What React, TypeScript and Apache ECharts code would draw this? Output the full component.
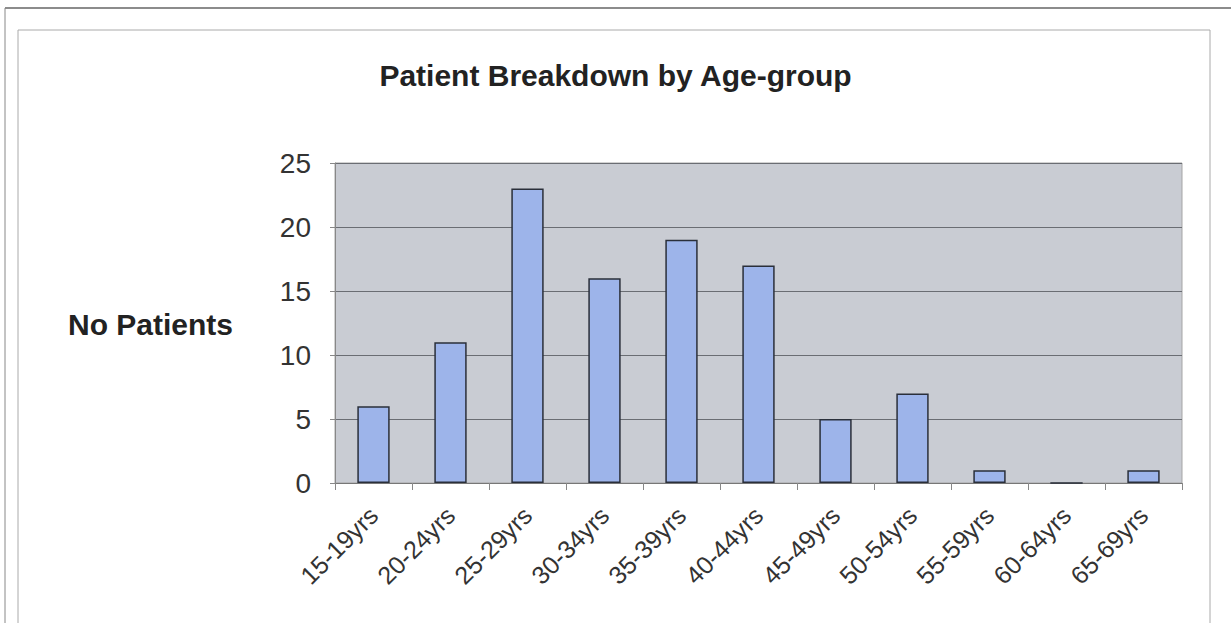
import React, { useEffect, useRef } from "react";
import * as echarts from "echarts";

const categories = ["15-19yrs", "20-24yrs", "25-29yrs", "30-34yrs", "35-39yrs", "40-44yrs", "45-49yrs", "50-54yrs", "55-59yrs", "60-64yrs", "65-69yrs"];
const patients = [6, 11, 23, 16, 19, 17, 5, 7, 1, 0, 1];
const yTicks = { min: 0, max: 25, interval: 5 };
const titleText = "Patient Breakdown by Age-group";
const yName = "No Patients";

export default function App() {
  const ref = useRef<HTMLDivElement>(null);
  useEffect(() => {
    document.body.style.margin = "0";
    const chart = echarts.init(ref.current!, null, { renderer: "svg" });
    chart.setOption({
      animation: false,
      backgroundColor: "#ffffff",
      title: {
        text: titleText,
        left: "center",
        top: 55,
        textStyle: { fontFamily: "Liberation Sans, Arial", fontWeight: "bold", fontSize: 30, color: "#222" },
      },
      graphic: [
        { type: "line", shape: { x1: 5, y1: 8, x2: 1231, y2: 8 }, style: { stroke: "#666", lineWidth: 1.5 } },
        { type: "line", shape: { x1: 5, y1: 8, x2: 5, y2: 623 }, style: { stroke: "#888", lineWidth: 1 } },
        { type: "rect", shape: { x: 18, y: 30, width: 1192, height: 600 }, style: { fill: "none", stroke: "#aaa", lineWidth: 1 } },
        {
          type: "text",
          left: 68,
          top: 309,
          style: { text: yName, fontFamily: "Liberation Sans, Arial", fontWeight: "bold", fontSize: 30, fill: "#222" },
        },
      ],
      grid: {
        left: 335,
        right: 49,
        top: 163,
        bottom: 140,
        show: true,
        backgroundColor: "#c9ccd3",
        borderColor: "#a5a5a5",
        borderWidth: 1,
      },
      xAxis: {
        type: "category",
        data: categories,
        axisLine: { lineStyle: { color: "#777", width: 1 } },
        axisTick: { show: true, length: 7, lineStyle: { color: "#888" } },
        axisLabel: {
          rotate: 45,
          interval: 0,
          fontFamily: "Liberation Sans, Arial",
          fontSize: 25,
          color: "#333",
          margin: 28,
        },
      },
      yAxis: {
        type: "value",
        min: yTicks.min,
        max: yTicks.max,
        interval: yTicks.interval,
        axisLine: { show: true, lineStyle: { color: "#888" } },
        axisTick: { show: true, length: 5, lineStyle: { color: "#888" } },
        axisLabel: { fontFamily: "Liberation Sans, Arial", fontSize: 28, color: "#333", margin: 24 },
        splitLine: { lineStyle: { color: "#6a6d73", width: 1 } },
      },
      series: [
        {
          type: "bar",
          data: patients,
          barWidth: "42%",
          itemStyle: { color: "#9db4ea", borderColor: "#2a2f3a", borderWidth: 1.5 },
        },
      ],
    });
    return () => chart.dispose();
  }, []);
  return <div ref={ref} style={{ position: "absolute", left: 0, top: 0, width: 1231, height: 623 }} />;
}
